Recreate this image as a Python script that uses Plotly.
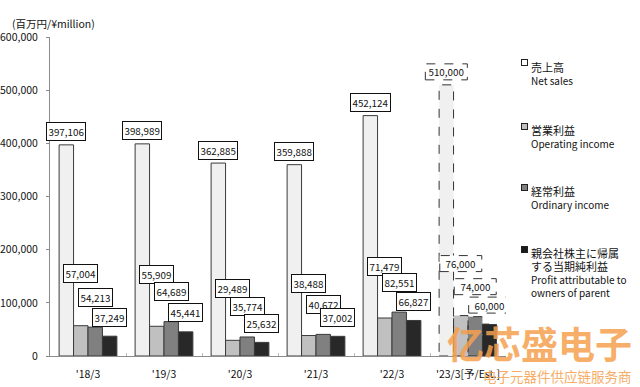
import plotly.graph_objects as go

# ---------------- data ----------------
categories = ["'18/3", "'19/3", "'20/3", "'21/3", "'22/3", "'23/3[予/Est.]"]
net_sales = [397106, 398989, 362885, 359888, 452124, 510000]
operating_income = [57004, 55909, 29489, 38488, 71479, 76000]
ordinary_income = [54213, 64689, 35774, 40672, 82551, 74000]
profit_parent = [37249, 45441, 25632, 37002, 66827, 60000]
forecast_flags = [False, False, False, False, False, True]

series_names_jp = ["売上高", "営業利益", "経常利益", "親会社株主に帰属<br>する当期純利益"]
series_names_en = ["Net sales", "Operating income", "Ordinary income",
                   "Profit attributable to<br>owners of parent"]
y_ticks = [0, 100000, 200000, 300000, 400000, 500000, 600000]
unit_label = "(百万円/¥million)"

# ---------------- style ----------------
FONT = "Noto Sans CJK JP"
FS = 10.5
LFS = 10
DFS = 9.8
fills = ["#f0f0f0", "#c0c0c0", "#808080", "#282828"]
swatch_fills = ["#ffffff", "#c0c0c0", "#808080", "#1a1a1a"]
edge = "#3a3a3a"
label_shift = [13, 52, 30, 19]          # px above bar top for data labels
label_w, label_h = 42, 16               # px size of dashed label boxes

W, H = 640, 387
L, R, T, B = 50, 134, 37, 31
PW, PH = W - L - R, H - T - B

def px_x(px):
    return (px - L) / PW

def px_y(py):
    return (H - B - py) / PH

series = [net_sales, operating_income, ordinary_income, profit_parent]
n = len(series)
bargap = 0.24
bw = (1 - bargap) / n
offsets = [(-(n - 1) / 2 + i) * bw for i in range(n)]

fig = go.Figure()
for i, vals in enumerate(series):
    fig.add_trace(go.Bar(
        x=categories, y=vals, name=series_names_en[i].replace("<br>", " "),
        marker=dict(color=fills[i],
                    line=dict(color=edge,
                              width=[0 if f else 1 for f in forecast_flags])),
        showlegend=False, hoverinfo="x+y",
    ))

annotations = []
shapes = []
for i, vals in enumerate(series):
    for j, v in enumerate(vals):
        xc = j + offsets[i]
        fc = forecast_flags[j]
        annotations.append(dict(
            x=xc, y=v, xref="x", yref="y", text=f"{v:,}", showarrow=False,
            yshift=label_shift[i], xanchor="center", yanchor="middle",
            font=dict(family=FONT, size=DFS, color="#111"),
            bgcolor="white" if not fc else "rgba(0,0,0,0)",
            bordercolor="#111" if not fc else "rgba(0,0,0,0)",
            borderwidth=1, borderpad=1.5,
        ))
        if fc:
            shapes.append(dict(
                type="rect", xref="x", yref="y",
                x0=xc - bw / 2, x1=xc + bw / 2, y0=0, y1=v,
                line=dict(color="#333", width=1, dash="dash"), layer="above",
            ))
            shapes.append(dict(
                type="rect", xref="x", yref="y",
                xsizemode="pixel", ysizemode="pixel",
                xanchor=xc, yanchor=v,
                x0=-label_w / 2, x1=label_w / 2,
                y0=label_shift[i] - label_h / 2, y1=label_shift[i] + label_h / 2,
                fillcolor="white",
                line=dict(color="#333", width=1, dash="dash"), layer="above",
            ))

# legend built from annotations
legend_tops = [57, 120, 181, 243]
for i in range(n):
    annotations.append(dict(
        x=px_x(524.5), y=px_y(legend_tops[i] + 6), xref="paper", yref="paper",
        text=" ", showarrow=False, width=5, height=5,
        bgcolor=swatch_fills[i], bordercolor="#222", borderwidth=1, borderpad=0,
        font=dict(size=1), xanchor="center", yanchor="middle",
    ))
    jp = "<br>".join(f'<span style="font-size:11px">{s}</span>'
                     for s in series_names_jp[i].split("<br>"))
    annotations.append(dict(
        x=px_x(529), y=px_y(legend_tops[i]), xref="paper", yref="paper",
        text=jp + "<br>" + series_names_en[i],
        showarrow=False, xanchor="left", yanchor="top", align="left",
        font=dict(family=FONT, size=LFS, color="#111"),
    ))

annotations.append(dict(
    x=px_x(10), y=px_y(23), xref="paper", yref="paper", text=unit_label,
    showarrow=False, xanchor="left", yanchor="middle",
    font=dict(family=FONT, size=FS, color="#111"),
))

# watermark
annotations.append(dict(
    x=px_x(634), y=px_y(343), xref="paper", yref="paper", text="<b>亿芯盛电子</b>",
    showarrow=False, xanchor="right", yanchor="middle", opacity=0.85,
    font=dict(family="Noto Sans CJK SC", size=37, color="#f5a04e"),
))
annotations.append(dict(
    x=px_x(634), y=px_y(376), xref="paper", yref="paper", text="电子元器件供应链服务商",
    showarrow=False, xanchor="right", yanchor="middle", opacity=0.85,
    font=dict(family="Noto Sans CJK SC", size=13.5, color="#f5a04e"),
))

fig.update_layout(
    width=W, height=H, margin=dict(l=L, r=R, t=T, b=B, pad=0, autoexpand=False),
    paper_bgcolor="white", plot_bgcolor="white",
    barmode="group", bargap=bargap, bargroupgap=0,
    font=dict(family=FONT, size=FS, color="#111"),
    annotations=annotations, shapes=shapes,
    xaxis=dict(
        type="category", range=[-0.5, len(categories) - 0.5],
        showline=True, linecolor="#8c8c8c", linewidth=1,
        ticks="inside", ticklen=3, tickcolor="#bbbbbb", tickson="boundaries",
        ticklabelstandoff=8, showgrid=False, zeroline=False,
        tickangle=0, automargin=False,
        tickfont=dict(family=FONT, size=FS, color="#111"),
    ),
    yaxis=dict(
        range=[0, 600000], tickvals=y_ticks, tickformat=",d",
        showline=True, linecolor="#8c8c8c", linewidth=1,
        ticks="outside", ticklen=3, tickcolor="#8c8c8c",
        ticklabelstandoff=6, showgrid=False, zeroline=False,
        automargin=False,
        tickfont=dict(family=FONT, size=FS, color="#111"),
    ),
)

fig.write_html(
    "out.html",
    config={"displayModeBar": False},
    post_script="document.body.style.margin='0';document.body.style.overflow='hidden';",
)
